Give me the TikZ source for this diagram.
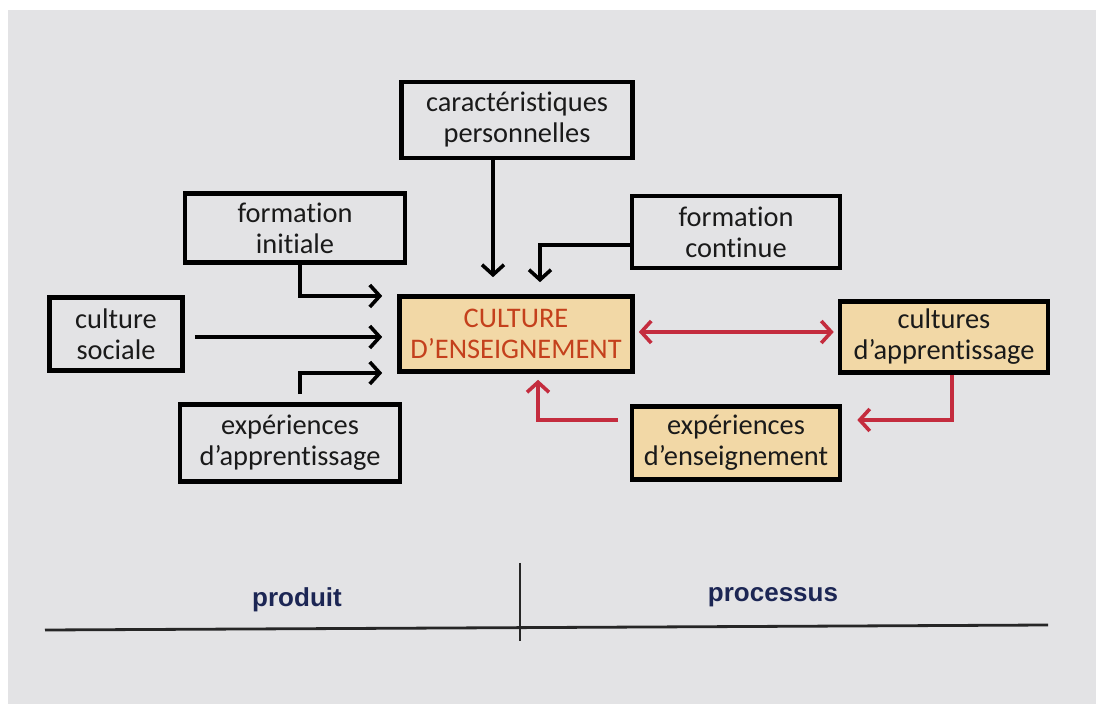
\documentclass[tikz,border=0pt]{standalone}
\usepackage{fontspec}
\setmainfont[Ligatures={NoCommon,NoRare}]{Carlito}
\newfontfamily\labfont{Liberation Sans}
\usetikzlibrary{arrows.meta}
\definecolor{bgpanel}{HTML}{E3E3E5}
\definecolor{boxfill}{HTML}{F2D8A6}
\definecolor{txtdark}{HTML}{1A1A1A}
\definecolor{culred}{HTML}{C4401C}
\definecolor{arrred}{HTML}{C42C3E}
\definecolor{navy}{HTML}{1C2654}
\tikzset{
  box/.style={draw=black, line width=2.3pt, rectangle, inner sep=0pt, align=center,
    text=txtdark, font=\fontsize{14.2}{15.5}\selectfont},
  fbox/.style={box, fill=boxfill},
  tip/.style={},
  blk/.style={draw=black, line width=1.8pt, -{Straight Barb[length=5pt,width=11pt,line width=1.8pt]}},
  rdd/.style={draw=arrred, line width=1.8pt, -{Straight Barb[length=5pt,width=11pt,line width=1.8pt]}},
  rdboth/.style={draw=arrred, line width=1.8pt, {Straight Barb[length=5pt,width=11pt,line width=1.8pt]}-{Straight Barb[length=5pt,width=11pt,line width=1.8pt]}},
  lab/.style={font=\labfont\bfseries\fontsize{13}{15}\selectfont, text=navy}
}
\begin{document}
\begin{tikzpicture}[x=0.5pt,y=-0.5pt]
\useasboundingbox (0,0) rectangle (1096,704);
\fill[white] (0,0) rectangle (1096,704);
\fill[bgpanel] (8,10) rectangle (1096,704);

\node[box, minimum width=115.5pt, minimum height=38pt] (carac) at (517,120) {caractéristiques\\personnelles};
\node[box, minimum width=110pt, minimum height=34.5pt] (finit) at (295,228) {formation\\initiale};
\node[box, minimum width=104pt, minimum height=36pt] (fcont) at (736,232) {formation\\continue};
\node[box, minimum width=66.5pt, minimum height=36.5pt] (csoc) at (116,334) {culture\\sociale};
\node[fbox, minimum width=116.5pt, minimum height=37.5pt, text=culred] (cult) at (516,334) {CULTURE\\D’ENSEIGNEMENT};
\node[fbox, minimum width=104pt, minimum height=35.5pt] (capp) at (944,337) {cultures\\d’apprentissage};
\node[box, minimum width=110pt, minimum height=38.5pt] (eapp) at (290,443) {expériences\\d’apprentissage};
\node[fbox, minimum width=104pt, minimum height=36.5pt] (eens) at (736,443) {expériences\\d’enseignement};

% black connectors
\draw[blk] ([xshift=-12pt]carac.south) -- ([xshift=-11.5pt,yshift=8.5pt]cult.north);
\draw[blk] ([yshift=-6.5pt]fcont.west) -| ([xshift=12pt,yshift=6pt]cult.north);
\draw[blk] ([xshift=2.5pt]finit.south) |- ([xshift=-7.5pt,yshift=19pt]cult.west);
\draw[blk] ([xshift=5pt,yshift=-1.5pt]csoc.east) -- ([xshift=-7.5pt,yshift=-1.5pt]cult.west);
\draw[blk] ([xshift=5pt,yshift=4pt]eapp.north) |- ([xshift=-7.5pt,yshift=-19.5pt]cult.west);

% red connectors
\draw[rdboth] ([xshift=2pt,yshift=1pt]cult.east) -- ([xshift=-2pt,yshift=1pt]capp.west |- cult.east);
\draw[rdd] ([xshift=4pt]capp.south) |- ([xshift=7.5pt,yshift=11.5pt]eens.east);
\draw[rdd] ([xshift=-6pt,yshift=11.5pt]eens.west) -| ([xshift=11pt,yshift=-3pt]cult.south);

% bottom axis
\coordinate (axL) at (45,630);
\coordinate (axR) at (1048,625);
\coordinate (divT) at (520,563);
\coordinate (divB) at (520,641);
\draw[line width=1.4pt, black!85] (axL) -- (axR);
\draw[line width=1.2pt, black!85] (divT) -- (divB);
\node[lab] (prod) at (297,600) {produit};
\node[lab] (proc) at (773,597) {processus};
\end{tikzpicture}
\end{document}
